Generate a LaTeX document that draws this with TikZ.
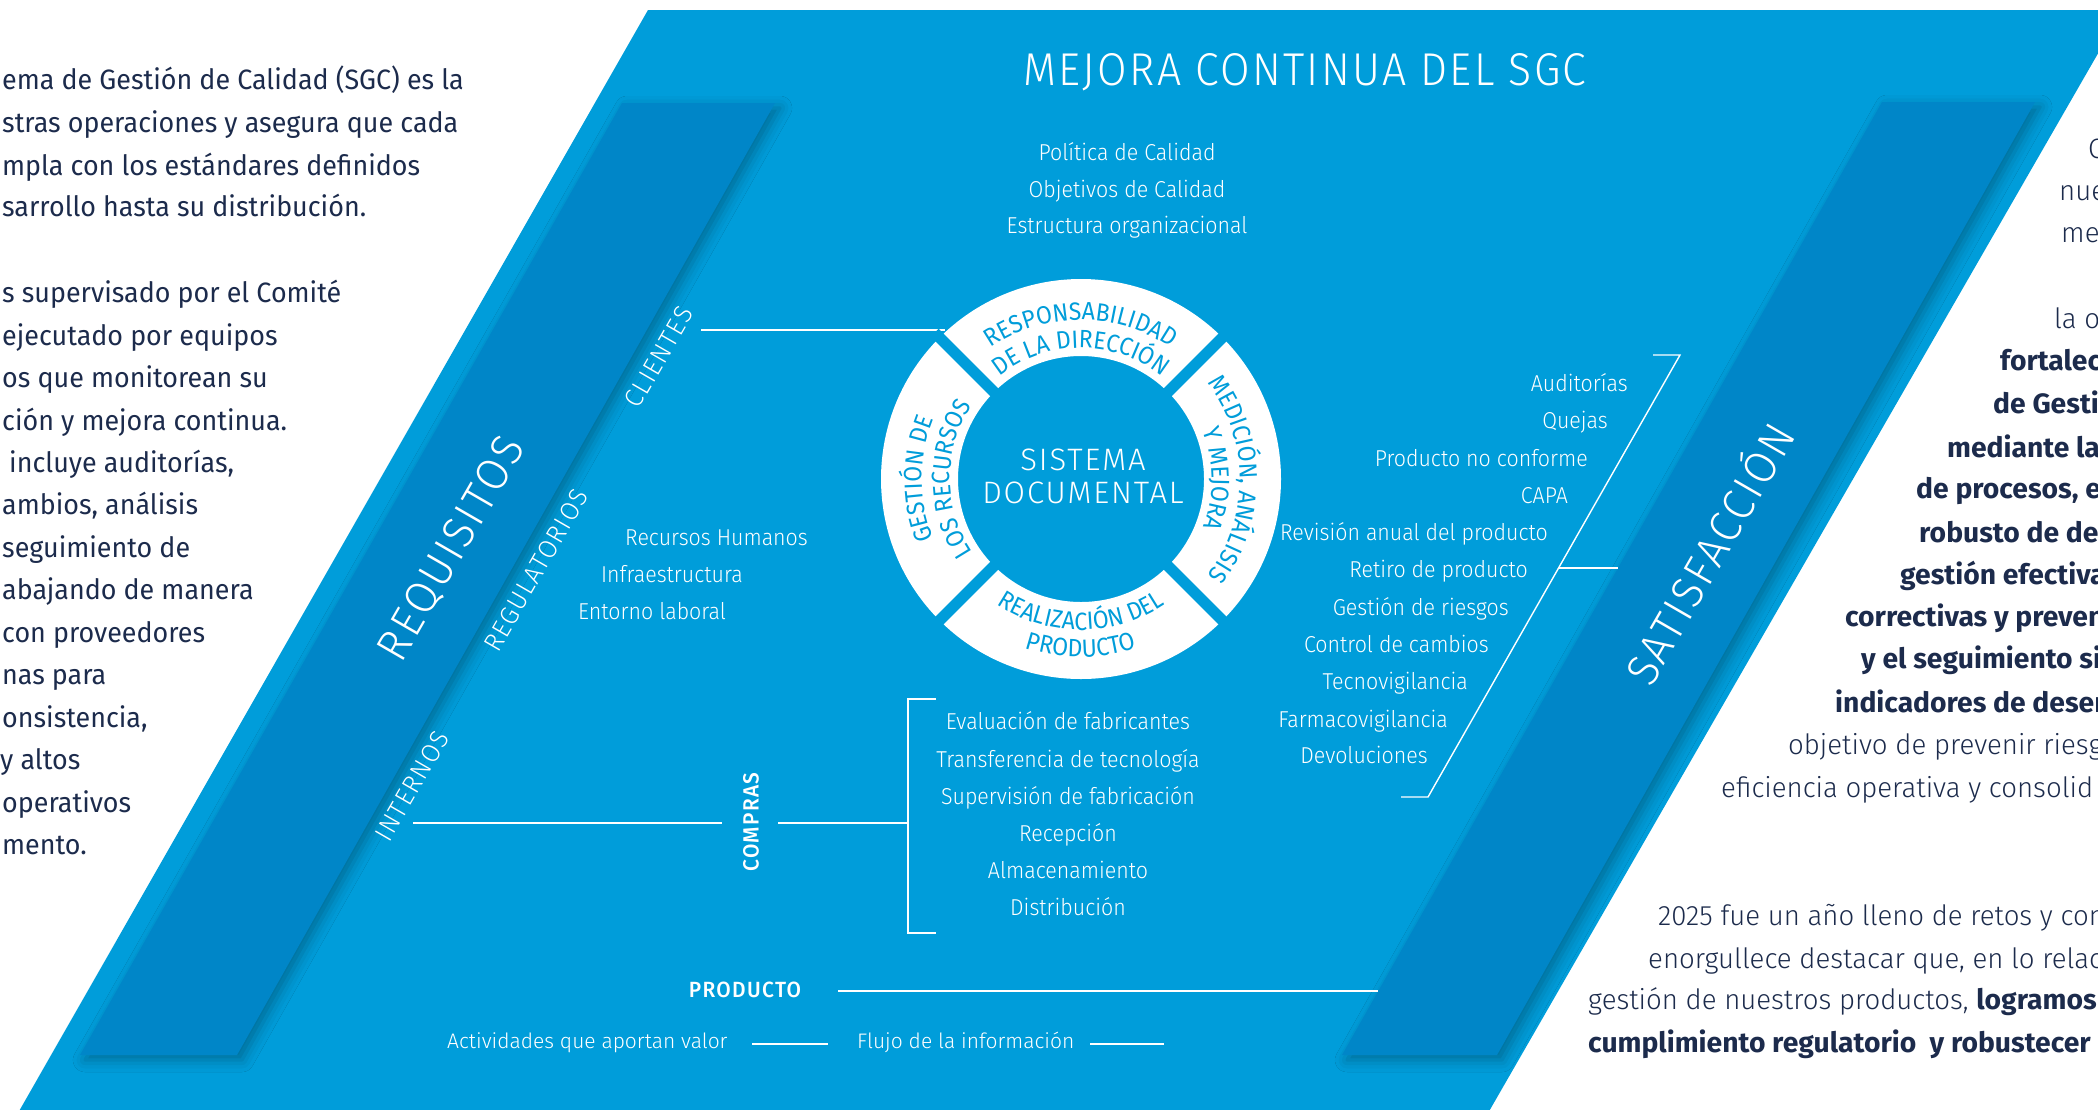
\documentclass[tikz,border=0pt]{standalone}
\usepackage{fontspec}
\setmainfont{Fira Sans}
\newfontfamily\bodyreg{Fira Sans}[FakeStretch=0.96]
\newfontfamily\bodylight{Fira Sans Light}[FakeStretch=0.985]
\newfontfamily\bodybold{Fira Sans Bold}[FakeStretch=1.01]
\newfontfamily\dlight{Fira Sans Light}[FakeStretch=0.93]
\newfontfamily\dleg{Fira Sans Light}[FakeStretch=1.0]
\newfontfamily\dtitle{Fira Sans Light}[FakeStretch=0.93,LetterSpace=5]
\newfontfamily\dcaps{Fira Sans Light}[FakeStretch=0.96,LetterSpace=6]
\newfontfamily\dcenter{Fira Sans Light}[FakeStretch=1.0,LetterSpace=6]
\newfontfamily\dmed{Fira Sans Medium}[FakeStretch=0.95,LetterSpace=6]
\newfontfamily\ringf{Fira Sans}[FakeStretch=0.92]
\usetikzlibrary{decorations.text,shadows.blur}
\definecolor{mainblue}{HTML}{009DDA}
\definecolor{darkblue}{HTML}{0086C8}
\definecolor{navy}{HTML}{1C2B4C}
\tikzset{
  body/.style={anchor=base west, inner sep=0pt, text=navy, font={\bodyreg\fontsize{28}{30}\selectfont}},
  rbody/.style={anchor=base west, inner sep=0pt, text=navy, font={\bodylight\fontsize{28}{30}\selectfont}},
  rbold/.style={anchor=base west, inner sep=0pt, text=navy, font={\bodybold\fontsize{28}{30}\selectfont}},
  item/.style={inner sep=0pt, text=white, font={\dlight\fontsize{23}{25}\selectfont}},
  itemc/.style={item, anchor=base},
  itemw/.style={item, anchor=base west},
  iteme/.style={item, anchor=base east},
  bandlabel/.style={inner sep=0pt, text=white, rotate=60, font={\dcaps\fontsize{26}{28}\selectfont}},
  biglabel/.style={inner sep=0pt, text=white, rotate=60, font={\dcaps\fontsize{45}{47}\selectfont}},
  wline/.style={white, line width=2.2pt},
  tline/.style={white, line width=1.4pt},
  bandshadow/.style={blur shadow={shadow xshift=5pt, shadow yshift=-5pt, shadow blur radius=12pt, shadow opacity=30}},
}
\newcommand\ringfmt{\ringf\fontsize{25}{27}\selectfont\color{mainblue}}
\begin{document}
\begin{tikzpicture}[x=1pt,y=-1pt]
\useasboundingbox (0,0) rectangle (2098,1109);
\clip (0,0) rectangle (2098,1109);
\fill[white] (0,0) rectangle (2098,1109);

% main parallelogram
\fill[mainblue] (648,10) -- (2123,10) -- (1484,1120) -- (14,1120) -- cycle;
% dark bands
\fill[darkblue, bandshadow] (622,103) -- (775,103) -- (237,1055) -- (80,1055) -- cycle;
\fill[darkblue, bandshadow] (1882,102) -- (2035,102) -- (1497,1055) -- (1342,1055) -- cycle;

% left body text
\node[body] (l1) at (2,89) {ema de Gestión de Calidad (SGC) es la};
\node[body] (l2) at (2,132) {stras operaciones y asegura que cada};
\node[body] (l3) at (2,175) {mpla con los estándares definidos};
\node[body] (l4) at (2,216) {sarrollo hasta su distribución.};
\node[body] (l5) at (2,302) {s supervisado por el Comité};
\node[body] (l6) at (2,345) {ejecutado por equipos};
\node[body] (l7) at (2,387) {os que monitorean su};
\node[body] (l8) at (2,430) {ción y mejora continua.};
\node[body] (l9) at (9,472) {incluye auditorías,};
\node[body] (l10) at (2,514) {ambios, análisis};
\node[body] (l11) at (2,557) {seguimiento de};
\node[body] (l12) at (2,599) {abajando de manera};
\node[body] (l13) at (2,642) {con proveedores};
\node[body] (l14) at (2,684) {nas para};
\node[body] (l15) at (2,727) {onsistencia,};
\node[body] (l16) at (0,769) {y altos};
\node[body] (l17) at (2,812) {operativos};
\node[body] (l18) at (2,854) {mento.};

% right body text
\node[rbody] (r1) at (2088,158) {C};
\node[rbody] (r2) at (2059,200) {nue};
\node[rbody] (r3) at (2061,242) {me};
\node[rbody] (r4) at (2054,328) {la o};
\node[rbold] (r5) at (2000,370) {fortalec};
\node[rbold] (r6) at (1993,413) {de Gesti};
\node[rbold] (r7) at (1947,457) {mediante la};
\node[rbold] (r8) at (1916,498) {de procesos, e};
\node[rbold] (r9) at (1919,542) {robusto de de};
\node[rbold] (r10) at (1900,584) {gestión efectiva};
\node[rbold] (r11) at (1845,626) {correctivas y preven};
\node[rbold] (r12) at (1861,668) {y el seguimiento si};
\node[rbold] (r13) at (1835,712) {indicadores de desem};
\node[rbody] (r14) at (1788,754) {objetivo de prevenir riesg};
\node[rbody] (r15) at (1721,797) {eficiencia operativa y consolid};
\node[rbody] (r16) at (1658,925) {2025 fue un año lleno de retos y con};
\node[rbody] (r17) at (1648,968) {enorgullece destacar que, en lo relac};
\node[rbody] (r18) at (1588,1009) {gestión de nuestros productos, {\bodybold logramos}};
\node[rbold] (r19) at (1588,1052) {cumplimiento regulatorio\ \ y robustecer};

% title and top list
\node[inner sep=0pt, anchor=base, text=white, font={\dtitle\fontsize{46}{50}\selectfont}] (title) at (1305,85) {MEJORA CONTINUA DEL SGC};
\node[itemc] (pol) at (1127,160) {Política de Calidad};
\node[itemc] (obj) at (1127,197) {Objetivos de Calidad};
\node[itemc] (est) at (1127,233) {Estructura organizacional};

% band labels
\node[bandlabel] (clientes) at (659,357) {CLIENTES};
\node[biglabel] (requisitos) at (452,549) {REQUISITOS};
\node[bandlabel] (regulatorios) at (536,570) {REGULATORIOS};
\node[bandlabel] (internos) at (412,786) {INTERNOS};
\node[biglabel] (satisfaccion) at (1707,552) {SATISFACCIÓN};

% connectors from CLIENTES and INTERNOS
\coordinate (cl0) at (701,330);
\coordinate (cl1) at (945,330);
\draw[wline] (cl0) -- (cl1);

\node[inner sep=0pt, rotate=90, text=white, font={\dmed\fontsize{22}{24}\selectfont}] (compras) at (751,822) {COMPRAS};
\coordinate (in0) at (413,823);
\coordinate (in1) at (722,823);
\coordinate (co0) at (778,823);
\coordinate (co1) at (908,823);
\draw[wline] (in0) -- (in1);
\draw[wline] (co0) -- (co1);
\coordinate (bt0) at (936,699);
\coordinate (bt1) at (908,699);
\coordinate (bb1) at (908,933);
\coordinate (bb0) at (936,933);
\draw[tline] (bt0) -- (bt1) -- (bb1) -- (bb0);

% compras items
\node[itemc] (c1) at (1068,729) {Evaluación de fabricantes};
\node[itemc] (c2) at (1068,767) {Transferencia de tecnología};
\node[itemc] (c3) at (1068,804) {Supervisión de fabricación};
\node[itemc] (c4) at (1068,841) {Recepción};
\node[itemc] (c5) at (1068,878) {Almacenamiento};
\node[itemc] (c6) at (1068,915) {Distribución};

% recursos
\node[itemw] (rh) at (625,545) {Recursos Humanos};
\node[itemw] (inf) at (601,582) {Infraestructura};
\node[itemw] (ent) at (578,619) {Entorno laboral};

% right list
\node[iteme] (m1) at (1628,391) {Auditorías};
\node[iteme] (m2) at (1608,428) {Quejas};
\node[iteme] (m3) at (1588,466) {Producto no conforme};
\node[iteme] (m4) at (1568,503) {CAPA};
\node[iteme] (m5) at (1548,540) {Revisión anual del producto};
\node[iteme] (m6) at (1528,577) {Retiro de producto};
\node[iteme] (m7) at (1509,615) {Gestión de riesgos};
\node[iteme] (m8) at (1489,652) {Control de cambios};
\node[iteme] (m9) at (1468,689) {Tecnovigilancia};
\node[iteme] (m10) at (1448,727) {Farmacovigilancia};
\node[iteme] (m11) at (1428,763) {Devoluciones};
\coordinate (sb0) at (1653,355);
\coordinate (sb1) at (1680,355);
\coordinate (sb2) at (1428,797);
\coordinate (sb3) at (1401,797);
\coordinate (sm0) at (1559,568);
\coordinate (sm1) at (1618,568);
\draw[tline] (sb0) -- (sb1) -- (sb2) -- (sb3);
\draw[wline] (sm0) -- (sm1);

% product line and legend
\node[inner sep=0pt, anchor=base, text=white, font={\dmed\fontsize{22}{24}\selectfont}] (producto) at (745,997) {PRODUCTO};
\coordinate (p0) at (838,991);
\coordinate (p1) at (1378,991);
\draw[wline] (p0) -- (p1);
\node[item, anchor=base west, font={\dleg\fontsize{21}{23}\selectfont}] (act) at (447,1048) {Actividades que aportan valor};
\coordinate (a0) at (752,1044);
\coordinate (a1) at (828,1044);
\draw[wline] (a0) -- (a1);
\node[item, anchor=base west, font={\dleg\fontsize{21}{23}\selectfont}] (flujo) at (857,1048) {Flujo de la información};
\coordinate (f0) at (1090,1044);
\coordinate (f1) at (1164,1044);
\draw[wline] (f0) -- (f1);

% ring
\node[circle, minimum size=400pt, inner sep=0pt] (ring) at (1081,479) {};
\begin{scope}[shift={(1081,479)}, x=1pt, y=1pt]
  \fill[white, even odd rule] (0,0) circle[radius=200] (0,0) circle[radius=123];
  \foreach \a in {45,135,225,315} \draw[mainblue, line width=11pt] (\a:116) -- (\a:207);
  \path[decorate, decoration={text along path, text align=center, text={|\ringfmt|RESPONSABILIDAD}}] (135:159) arc[start angle=135, end angle=45, radius=159];
  \path[decorate, decoration={text along path, text align=center, text={|\ringfmt|DE LA DIRECCIÓN}}] (135:131) arc[start angle=135, end angle=45, radius=131];
  \path[decorate, decoration={text along path, text align=center, text={|\ringfmt|MEDICIÓN, ANÁLISIS}}] (45:159) arc[start angle=45, end angle=-45, radius=159];
  \path[decorate, decoration={text along path, text align=center, text={|\ringfmt|Y MEJORA}}] (45:131) arc[start angle=45, end angle=-45, radius=131];
  \path[decorate, decoration={text along path, text align=center, text={|\ringfmt|GESTIÓN DE}}] (225:159) arc[start angle=225, end angle=135, radius=159];
  \path[decorate, decoration={text along path, text align=center, text={|\ringfmt|LOS RECURSOS}}] (225:131) arc[start angle=225, end angle=135, radius=131];
  \path[decorate, decoration={text along path, text align=center, text={|\ringfmt|REALIZACIÓN DEL}}] (225:151) arc[start angle=225, end angle=315, radius=151];
  \path[decorate, decoration={text along path, text align=center, text={|\ringfmt|PRODUCTO}}] (225:178) arc[start angle=225, end angle=315, radius=178];
\end{scope}
\node[inner sep=0pt, anchor=base, text=white, font={\dcenter\fontsize{31}{33}\selectfont}] (sis) at (1083,470) {SISTEMA};
\node[inner sep=0pt, anchor=base, text=white, font={\dcenter\fontsize{31}{33}\selectfont}] (doc) at (1083,503) {DOCUMENTAL};
\end{tikzpicture}
\end{document}
